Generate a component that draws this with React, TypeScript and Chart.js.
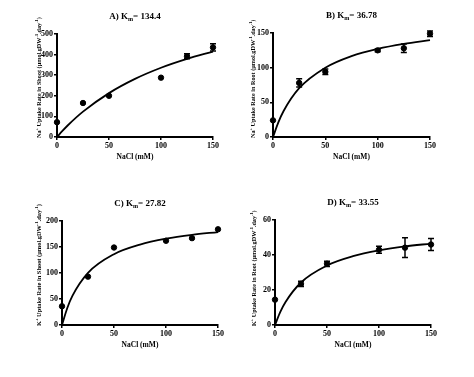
import React, { useEffect, useRef } from "react";
import { Chart, registerables } from "chart.js";
Chart.register(...registerables);

const FONT = "'Liberation Serif', 'Times New Roman', serif";

const nacl = [0, 25, 50, 100, 125, 150];
const fitX = [0, 5, 10, 25, 50, 75, 100, 125, 150];
const xTicks = [0, 50, 100, 150];

const naShootMean = [72, 165, 200, 288, 392, 435];
const naShootErr = [0, 0, 0, 0, 12, 18];
const naShootFit = [0, 28.2, 54.6, 123, 213, 282, 336, 379, 415];

const naRootMean = [24, 78, 94, 125, 128, 149];
const naRootErr = [0, 6, 4, 2, 6, 4];
const naRootFit = [0, 20.8, 37.2, 70.4, 100, 116.7, 127.2, 134.4, 139.7];

const kShootMean = [36, 93, 149, 162, 167, 184];
const kShootErr = [0, 0, 0, 0, 0, 0];
const kShootFit = [0, 32.3, 56.1, 100.3, 136.2, 154.6, 165.9, 173.4, 178.8];

const kRootMean = [14.5, 23.5, 35, 43, 44.2, 46];
const kRootErr = [0, 1.5, 1.5, 2, 5.6, 3.4];
const kRootFit = [0, 7.4, 13.05, 24.3, 34.0, 39.3, 42.6, 44.9, 46.5];

type Seg = { t: string; sup?: boolean; sub?: boolean };

function drawRich(ctx: CanvasRenderingContext2D, segs: Seg[], x: number, y: number, size: number, align: "left" | "center") {
  const small = size * 0.68;
  let w = 0;
  for (const s of segs) {
    ctx.font = `bold ${s.sup || s.sub ? small : size}px ${FONT}`;
    w += ctx.measureText(s.t).width;
  }
  let cx = align === "center" ? x - w / 2 : x;
  ctx.textAlign = "left";
  ctx.textBaseline = "middle";
  for (const s of segs) {
    const fs = s.sup || s.sub ? small : size;
    ctx.font = `bold ${fs}px ${FONT}`;
    const dy = s.sup ? -size * 0.38 : s.sub ? size * 0.3 : 0;
    ctx.fillText(s.t, cx, y + dy);
    cx += ctx.measureText(s.t).width;
  }
}

const unitSegs = (ion: string, organ: string): Seg[] => [
  { t: ion },
  { t: "+", sup: true },
  { t: ` Uptake Rate in ${organ} (µmol.gDW` },
  { t: "-1", sup: true },
  { t: ".day" },
  { t: "-1", sup: true },
  { t: ")" },
];

type PanelProps = {
  left: number; top: number; w: number; h: number;
  wy: number; padTop: number; padRight: number; hx: number;
  yMax: number; yStep: number;
  mean: number[]; err: number[]; fit: number[];
  letter: string; km: string; ion: string; organ: string; labelX: number; labelSize: number;
};

function Panel(p: PanelProps) {
  const ref = useRef<HTMLCanvasElement>(null);
  useEffect(() => {
    const decor = {
      id: "decor",
      afterDatasetsDraw(chart: any) {
        const ctx: CanvasRenderingContext2D = chart.ctx;
        const xs = chart.scales.x;
        const ys = chart.scales.y;
        const a = chart.chartArea;
        ctx.save();
        ctx.strokeStyle = "#000";
        ctx.fillStyle = "#000";
        ctx.lineWidth = 1.5;
        p.err.forEach((e, i) => {
          if (!e) return;
          const px = xs.getPixelForValue(nacl[i]);
          const y1 = ys.getPixelForValue(p.mean[i] - e);
          const y2 = ys.getPixelForValue(p.mean[i] + e);
          ctx.beginPath();
          ctx.moveTo(px, y1); ctx.lineTo(px, y2);
          ctx.moveTo(px - 3, y1); ctx.lineTo(px + 3, y1);
          ctx.moveTo(px - 3, y2); ctx.lineTo(px + 3, y2);
          ctx.stroke();
        });
        const cxm = (a.left + a.right) / 2;
        drawRich(ctx, [{ t: `${p.letter}) K` }, { t: "m", sub: true }, { t: `= ${p.km}` }], cxm, a.top - 17, 9, "center");
        drawRich(ctx, [{ t: "NaCl (mM)" }], cxm, a.bottom + 20, 7.5, "center");
        ctx.save();
        ctx.translate(p.labelX, a.bottom + 1);
        ctx.rotate(-Math.PI / 2);
        drawRich(ctx, unitSegs(p.ion, p.organ), 0, 0, p.labelSize, "left");
        ctx.restore();
        ctx.restore();
      },
    };
    const tickFont = { family: FONT, size: 8, weight: "bold" as const };
    const chart = new Chart(ref.current!, {
      type: "scatter",
      data: {
        datasets: [
          {
            type: "line",
            data: fitX.map((x, i) => ({ x, y: p.fit[i] })),
            borderColor: "#000",
            borderWidth: 1.8,
            pointRadius: 0,
            cubicInterpolationMode: "monotone",
            clip: false,
            fill: false,
          } as any,
          {
            type: "scatter",
            data: nacl.map((x, i) => ({ x, y: p.mean[i] })),
            backgroundColor: "#000",
            borderColor: "#000",
            pointRadius: 2.7,
            clip: false,
          } as any,
        ],
      },
      options: {
        animation: false,
        responsive: false,
        devicePixelRatio: 1,
        layout: { autoPadding: false, padding: { left: 0, top: p.padTop, right: p.padRight, bottom: 0 } },
        plugins: { legend: { display: false }, tooltip: { enabled: false }, title: { display: false } },
        scales: {
          x: {
            type: "linear", min: 0, max: 150,
            afterBuildTicks: (s: any) => { s.ticks = xTicks.map((v) => ({ value: v })); },
            ticks: { font: tickFont, color: "#000", padding: 1, maxRotation: 0 },
            grid: { drawOnChartArea: false, drawTicks: true, tickLength: 3, color: "#000", lineWidth: 1.5 },
            border: { display: true, color: "#000", width: 2 },
            afterFit: (s: any) => { s.height = p.hx; },
          },
          y: {
            type: "linear", min: 0, max: p.yMax,
            ticks: { stepSize: p.yStep, font: tickFont, color: "#000", padding: 1 },
            grid: { drawOnChartArea: false, drawTicks: true, tickLength: 3, color: "#000", lineWidth: 1.5 },
            border: { display: true, color: "#000", width: 2 },
            afterFit: (s: any) => { s.width = p.wy; },
          },
        },
      } as any,
      plugins: [decor],
    });
    return () => chart.destroy();
  }, []);
  return (
    <canvas
      ref={ref}
      width={p.w}
      height={p.h}
      style={{ position: "absolute", left: p.left, top: p.top, width: p.w, height: p.h }}
    />
  );
}

export default function App() {
  return (
    <div style={{ position: "absolute", left: 0, top: 0, width: 474, height: 377, background: "#fff", overflow: "hidden" }}>
      <Panel left={0} top={0} w={237} h={188} wy={57} padTop={34} padRight={24} hx={51}
        yMax={500} yStep={100} mean={naShootMean} err={naShootErr} fit={naShootFit}
        letter="A" km="134.4" ion="Na" organ="Shoot" labelX={39} labelSize={6.2} />
      <Panel left={237} top={0} w={237} h={188} wy={36} padTop={33} padRight={44} hx={51}
        yMax={150} yStep={50} mean={naRootMean} err={naRootErr} fit={naRootFit}
        letter="B" km="36.78" ion="Na" organ="Root" labelX={16} labelSize={6.2} />
      <Panel left={0} top={188} w={237} h={189} wy={62} padTop={33} padRight={19} hx={52}
        yMax={200} yStep={50} mean={kShootMean} err={kShootErr} fit={kShootFit}
        letter="C" km="27.82" ion="K" organ="Shoot" labelX={39} labelSize={6.4} />
      <Panel left={237} top={188} w={237} h={189} wy={38} padTop={32} padRight={43} hx={52}
        yMax={60} yStep={20} mean={kRootMean} err={kRootErr} fit={kRootFit}
        letter="D" km="33.55" ion="K" organ="Root" labelX={17} labelSize={6.2} />
    </div>
  );
}
